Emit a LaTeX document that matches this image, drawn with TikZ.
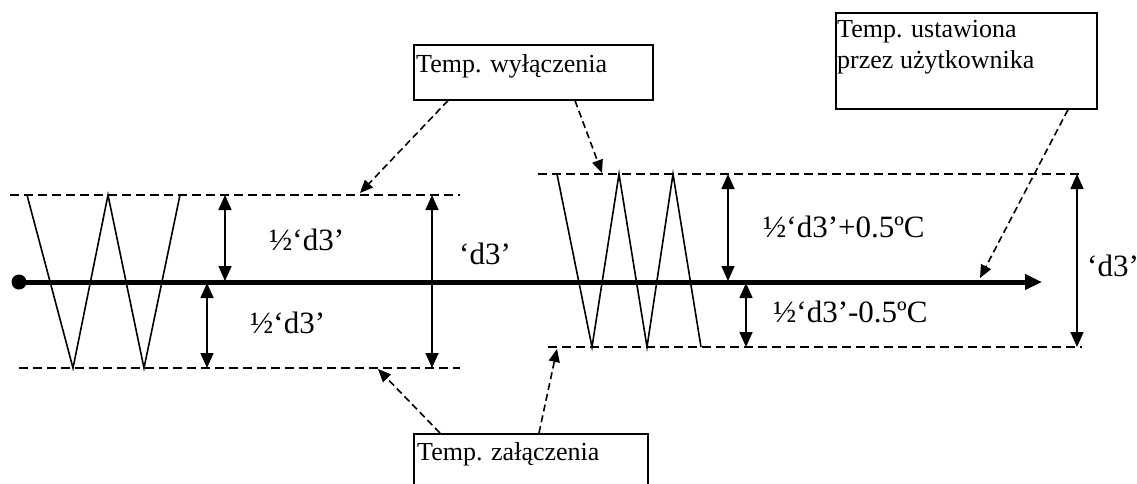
\documentclass[tikz,border=0pt]{standalone}
\usepackage{fontspec}
\setmainfont{Liberation Serif}
\usetikzlibrary{arrows.meta,calc}
\begin{document}
\begin{tikzpicture}[x=1pt,y=-1pt,
 lvl/.style={line width=2pt, dash pattern=on 9pt off 5pt},
 zig/.style={line width=1.6pt},
 dim/.style={line width=1.6pt, {Triangle[length=15pt,width=13pt]}-{Triangle[length=15pt,width=13pt]}},
 axisline/.style={line width=5pt, -{Triangle[length=17pt,width=15pt]}},
 ptr/.style={line width=1.6pt, dash pattern=on 7pt off 4pt, -{Triangle[length=13pt,width=11pt]}},
 box/.style={draw, line width=1.6pt, inner sep=0pt, anchor=north west},
 lbl/.style={anchor=base west, inner sep=0pt, font=\fontsize{31}{36}\selectfont},
 btxt/.style={anchor=base west, inner sep=0pt, font=\fontsize{26}{31}\selectfont},
]
\useasboundingbox (0,0) rectangle (1137,483);
\clip (0,0) rectangle (1137,483);

% boxes
\node[box, minimum width=239pt, minimum height=55pt] (bw) at (413,44) {};
\node[btxt] (tw) at (416,72) {Temp. wyłączenia};
\node[box, minimum width=261pt, minimum height=96pt] (bu) at (835,12) {};
\node[btxt] (tu1) at (837,37) {Temp. ustawiona};
\node[btxt] (tu2) at (837,68) {przez użytkownika};
\node[box, minimum width=234pt, minimum height=70pt] (bz) at (413,433) {};
\node[btxt] (tz) at (417,460) {Temp. załączenia};

% level lines
\coordinate (LTa) at (10,195);  \coordinate (LTb) at (460,195);
\coordinate (LBa) at (19,368);  \coordinate (LBb) at (460,368);
\coordinate (RTa) at (538,174); \coordinate (RTb) at (1080,174);
\coordinate (RBa) at (548,347); \coordinate (RBb) at (1082,347);
\draw[lvl] (LTa) -- (LTb);
\draw[lvl] (LBa) -- (LBb);
\draw[lvl] (RTa) -- (RTb);
\draw[lvl] (RBa) -- (RBb);

% zigzags
\draw[zig] (27,195) -- (73,368) -- (108,195) -- (144,368) -- (180,195);
\draw[zig] (557,174) -- (592,347) -- (619,174) -- (647,347) -- (673,174) -- (701,347);

% axis
\node[circle, fill, inner sep=0pt, minimum size=15pt] (dot) at (19,282) {};
\coordinate (axend) at (1042,282);
\draw[axisline] (dot.center) -- (axend);

% dimension arrows
\coordinate (d1a) at (225,195); \coordinate (d1b) at (225,281);
\coordinate (d2a) at (207,283); \coordinate (d2b) at (207,368);
\coordinate (d3a) at (432,195); \coordinate (d3b) at (432,368);
\coordinate (d4a) at (728,174); \coordinate (d4b) at (728,281);
\coordinate (d5a) at (746,283); \coordinate (d5b) at (746,347);
\coordinate (d6a) at (1077,174); \coordinate (d6b) at (1077,347);
\draw[dim] (d1a) -- (d1b);
\draw[dim] (d2a) -- (d2b);
\draw[dim] (d3a) -- (d3b);
\draw[dim] (d4a) -- (d4b);
\draw[dim] (d5a) -- (d5b);
\draw[dim] (d6a) -- (d6b);

% labels
\node[lbl] (l1) at (269,250) {½‘d3’};
\node[lbl] (l2) at (250,333) {½‘d3’};
\node[lbl] (l3) at (459,264) {‘d3’};
\node[lbl] (l4) at (763,237) {½‘d3’+0.5ºC};
\node[lbl] (l5) at (773,322) {½‘d3’-0.5ºC};
\node[lbl] (l6) at (1087,276) {‘d3’};

% pointers
\coordinate (p1) at (360,193);
\coordinate (p2) at (602,173);
\coordinate (p3) at (980,278);
\coordinate (p4) at (378,369);
\coordinate (p5) at (557,349);
\draw[ptr] (bw.south west -| 448,0) -- (p1);
\draw[ptr] (bw.south west -| 575,0) -- (p2);
\draw[ptr] (bu.south west -| 1068,0) -- (p3);
\draw[ptr] (bz.north west -| 440,0) -- (p4);
\draw[ptr] (bz.north west -| 539,0) -- (p5);
\end{tikzpicture}
\end{document}
